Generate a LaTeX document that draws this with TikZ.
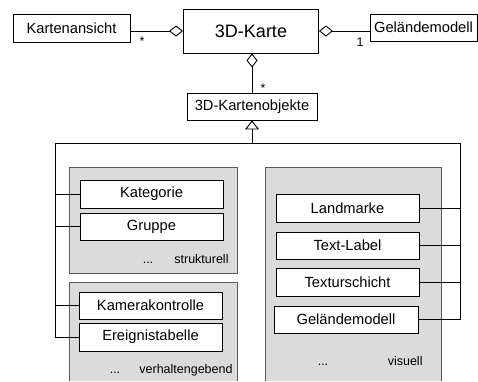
\documentclass[tikz,border=0pt]{standalone}
\usepackage{fontspec}
\setmainfont{Liberation Sans}
\usetikzlibrary{arrows.meta}

\begin{document}
\begin{tikzpicture}[x=1pt, y=-1pt, line width=0.9pt,
    klasse/.style={draw, fill=white, inner sep=0pt, font=\fontsize{14.7}{17}\selectfont},
    gruppe/.style={draw=black!65, fill=black!14},
    klein/.style={inner sep=0pt, font=\fontsize{12.5}{15}\selectfont},
    aggregat/.style={-{Diamond[open, length=14pt, width=11pt]}},
    erbt/.style={-{Triangle[open, length=9pt, width=14pt]}}]
  \useasboundingbox (0, 0) rectangle (478, 381);

  % Groups of map objects.
  \filldraw [gruppe] (69, 167) rectangle (237, 273);
  \filldraw [gruppe] (69, 381) |- (237, 282) -- (237, 381);
  \filldraw [gruppe] (265, 381) |- (441, 167) -- (441, 381);

  % Map and its parts.
  \node [klasse, minimum width=117, minimum height=28] (ansicht) at (71.5, 28) {Kartenansicht};
  \node [klasse, minimum width=135, minimum height=44, font=\fontsize{18}{21}\selectfont] (karte) at (251, 31) {3D-Karte};
  \node [klasse, minimum width=107, minimum height=27] (gelaende) at (423.5, 27.5) {Geländemodell};
  \node [klasse, minimum width=130, minimum height=27] (objekte) at (252, 106.5) {3D-Kartenobjekte};

  % Aggregations.
  \draw [aggregat] (ansicht.east |- karte.west) -- (karte.west);
  \draw [aggregat] (gelaende.west |- karte.east) -- (karte.east);
  \draw [aggregat] (objekte.north) -- (objekte.north |- karte.south);
  \node [klein] (multA) at (142, 41) {*};
  \node [klein] (multB) at (360, 42) {1};
  \node [klein] (multC) at (263, 88) {*};

  % Structural objects.
  \node [klasse, minimum width=143, minimum height=28] (kategorie) at (151.5, 194) {Kategorie};
  \node [klasse, minimum width=143, minimum height=27] (gruppe) at (151.5, 226.5) {Gruppe};
  \node [klein, anchor=base] (dotsA) at (148, 263) {...};
  \node [klein, anchor=base east] (strukturell) at (229, 263) {strukturell};

  % Behavioural objects.
  \node [klasse, minimum width=143, minimum height=27] (kamera) at (150.5, 305.5) {Kamerakontrolle};
  \node [klasse, minimum width=143, minimum height=28] (ereignis) at (150.5, 337) {Ereignistabelle};
  \node [klein, anchor=base] (dotsB) at (115, 373) {...};
  \node [klein, anchor=base east] (verhalten) at (233, 373) {verhaltengebend};

  % Visual objects.
  \node [klasse, minimum width=143, minimum height=28] (landmarke) at (347.5, 208) {Landmarke};
  \node [klasse, minimum width=143, minimum height=27] (textlabel) at (347.5, 245.5) {Text-Label};
  \node [klasse, minimum width=143, minimum height=28] (textur) at (347.5, 282) {Texturschicht};
  \node [klasse, minimum width=144, minimum height=27] (modell) at (346, 319.5) {Geländemodell};
  \node [klein, anchor=base] (dotsC) at (323, 365) {...};
  \node [klein, anchor=base east] (visuell) at (423, 365) {visuell};

  % Generalization.
  \coordinate (gabel) at (252, 143);
  \coordinate (busL) at (55, 143);
  \coordinate (busR) at (460, 143);
  \draw [erbt] (gabel) -- (objekte.south);
  \draw (ereignis.west) -| (busL) -- (busR) |- (modell.east);
  \draw (kategorie.west) -- (kategorie.west -| busL);
  \draw (gruppe.west) -- (gruppe.west -| busL);
  \draw (kamera.west) -- (kamera.west -| busL);
  \draw (landmarke.east) -- (landmarke.east -| busR);
  \draw (textlabel.east) -- (textlabel.east -| busR);
  \draw (textur.east) -- (textur.east -| busR);
\end{tikzpicture}
\end{document}
